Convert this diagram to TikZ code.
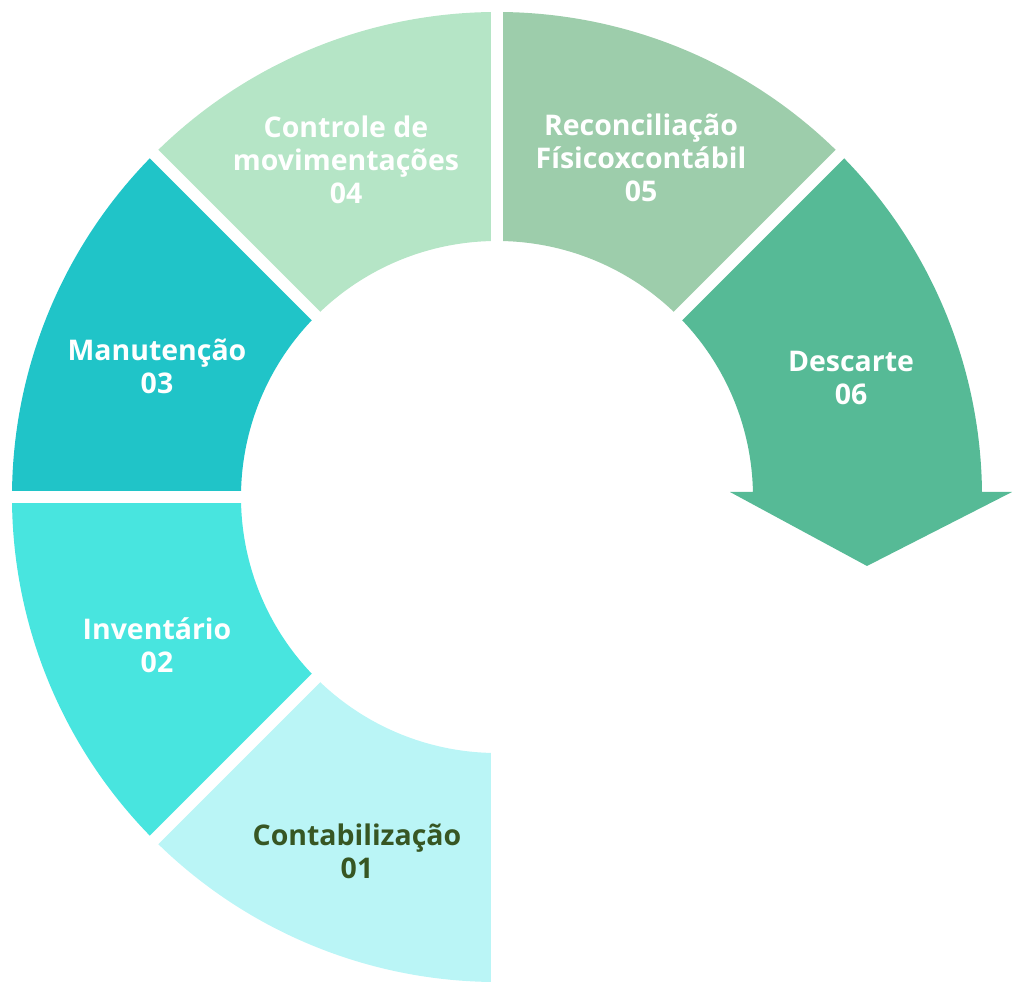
\documentclass[tikz,border=0pt]{standalone}
\usepackage{fontspec}
\setmainfont{Open Sans}
\definecolor{contabfill}{HTML}{BAF5F6}
\definecolor{inventfill}{HTML}{48E5DF}
\definecolor{manutfill}{HTML}{20C4C8}
\definecolor{controlefill}{HTML}{B5E5C6}
\definecolor{reconcfill}{HTML}{9DCDAB}
\definecolor{descartefill}{HTML}{56BA96}
\definecolor{darkgreen}{HTML}{375623}
\newcommand{\ringpart}[3]{\fill[#3] (#1:256) arc[start angle=#1, end angle=#2, radius=256] -- (#2:485) arc[start angle=#2, end angle=#1, radius=485] -- cycle;}
\begin{document}
\begin{tikzpicture}[x=0.02cm, y=0.02cm,
  every node/.style={font=\bfseries\fontsize{16.2}{18.8}\selectfont, text=white, align=center},
  gapline/.style={white, line width=0.24cm}]
\useasboundingbox (-497,-499) rectangle (527,497);
\ringpart{270}{225}{contabfill}
\ringpart{225}{180}{inventfill}
\ringpart{180}{135}{manutfill}
\ringpart{135}{90}{controlefill}
\ringpart{90}{45}{reconcfill}
\fill[descartefill] (256,5) -- (233,5) -- (370,-69) -- (515,5) -- (485,5) arc[start angle=0.6, end angle=45, radius=485] -- (45:256) arc[start angle=45, end angle=1.1, radius=256] -- cycle;
\foreach \a in {45,90,...,270}
  \draw[gapline] (\a:240) -- (\a:500);
\node[text=darkgreen] (contab) at (-140,-354) {Contabilização\\01};
\node (invent) at (-340,-148) {Inventário\\02};
\node (manut) at (-340,131) {Manutenção\\03};
\node (controle) at (-151,337) {Controle de\\movimentações\\04};
\node (reconc) at (144,339) {Reconciliação\\Físicoxcontábil\\05};
\node (descarte) at (354,119) {Descarte\\06};
\end{tikzpicture}
\end{document}
